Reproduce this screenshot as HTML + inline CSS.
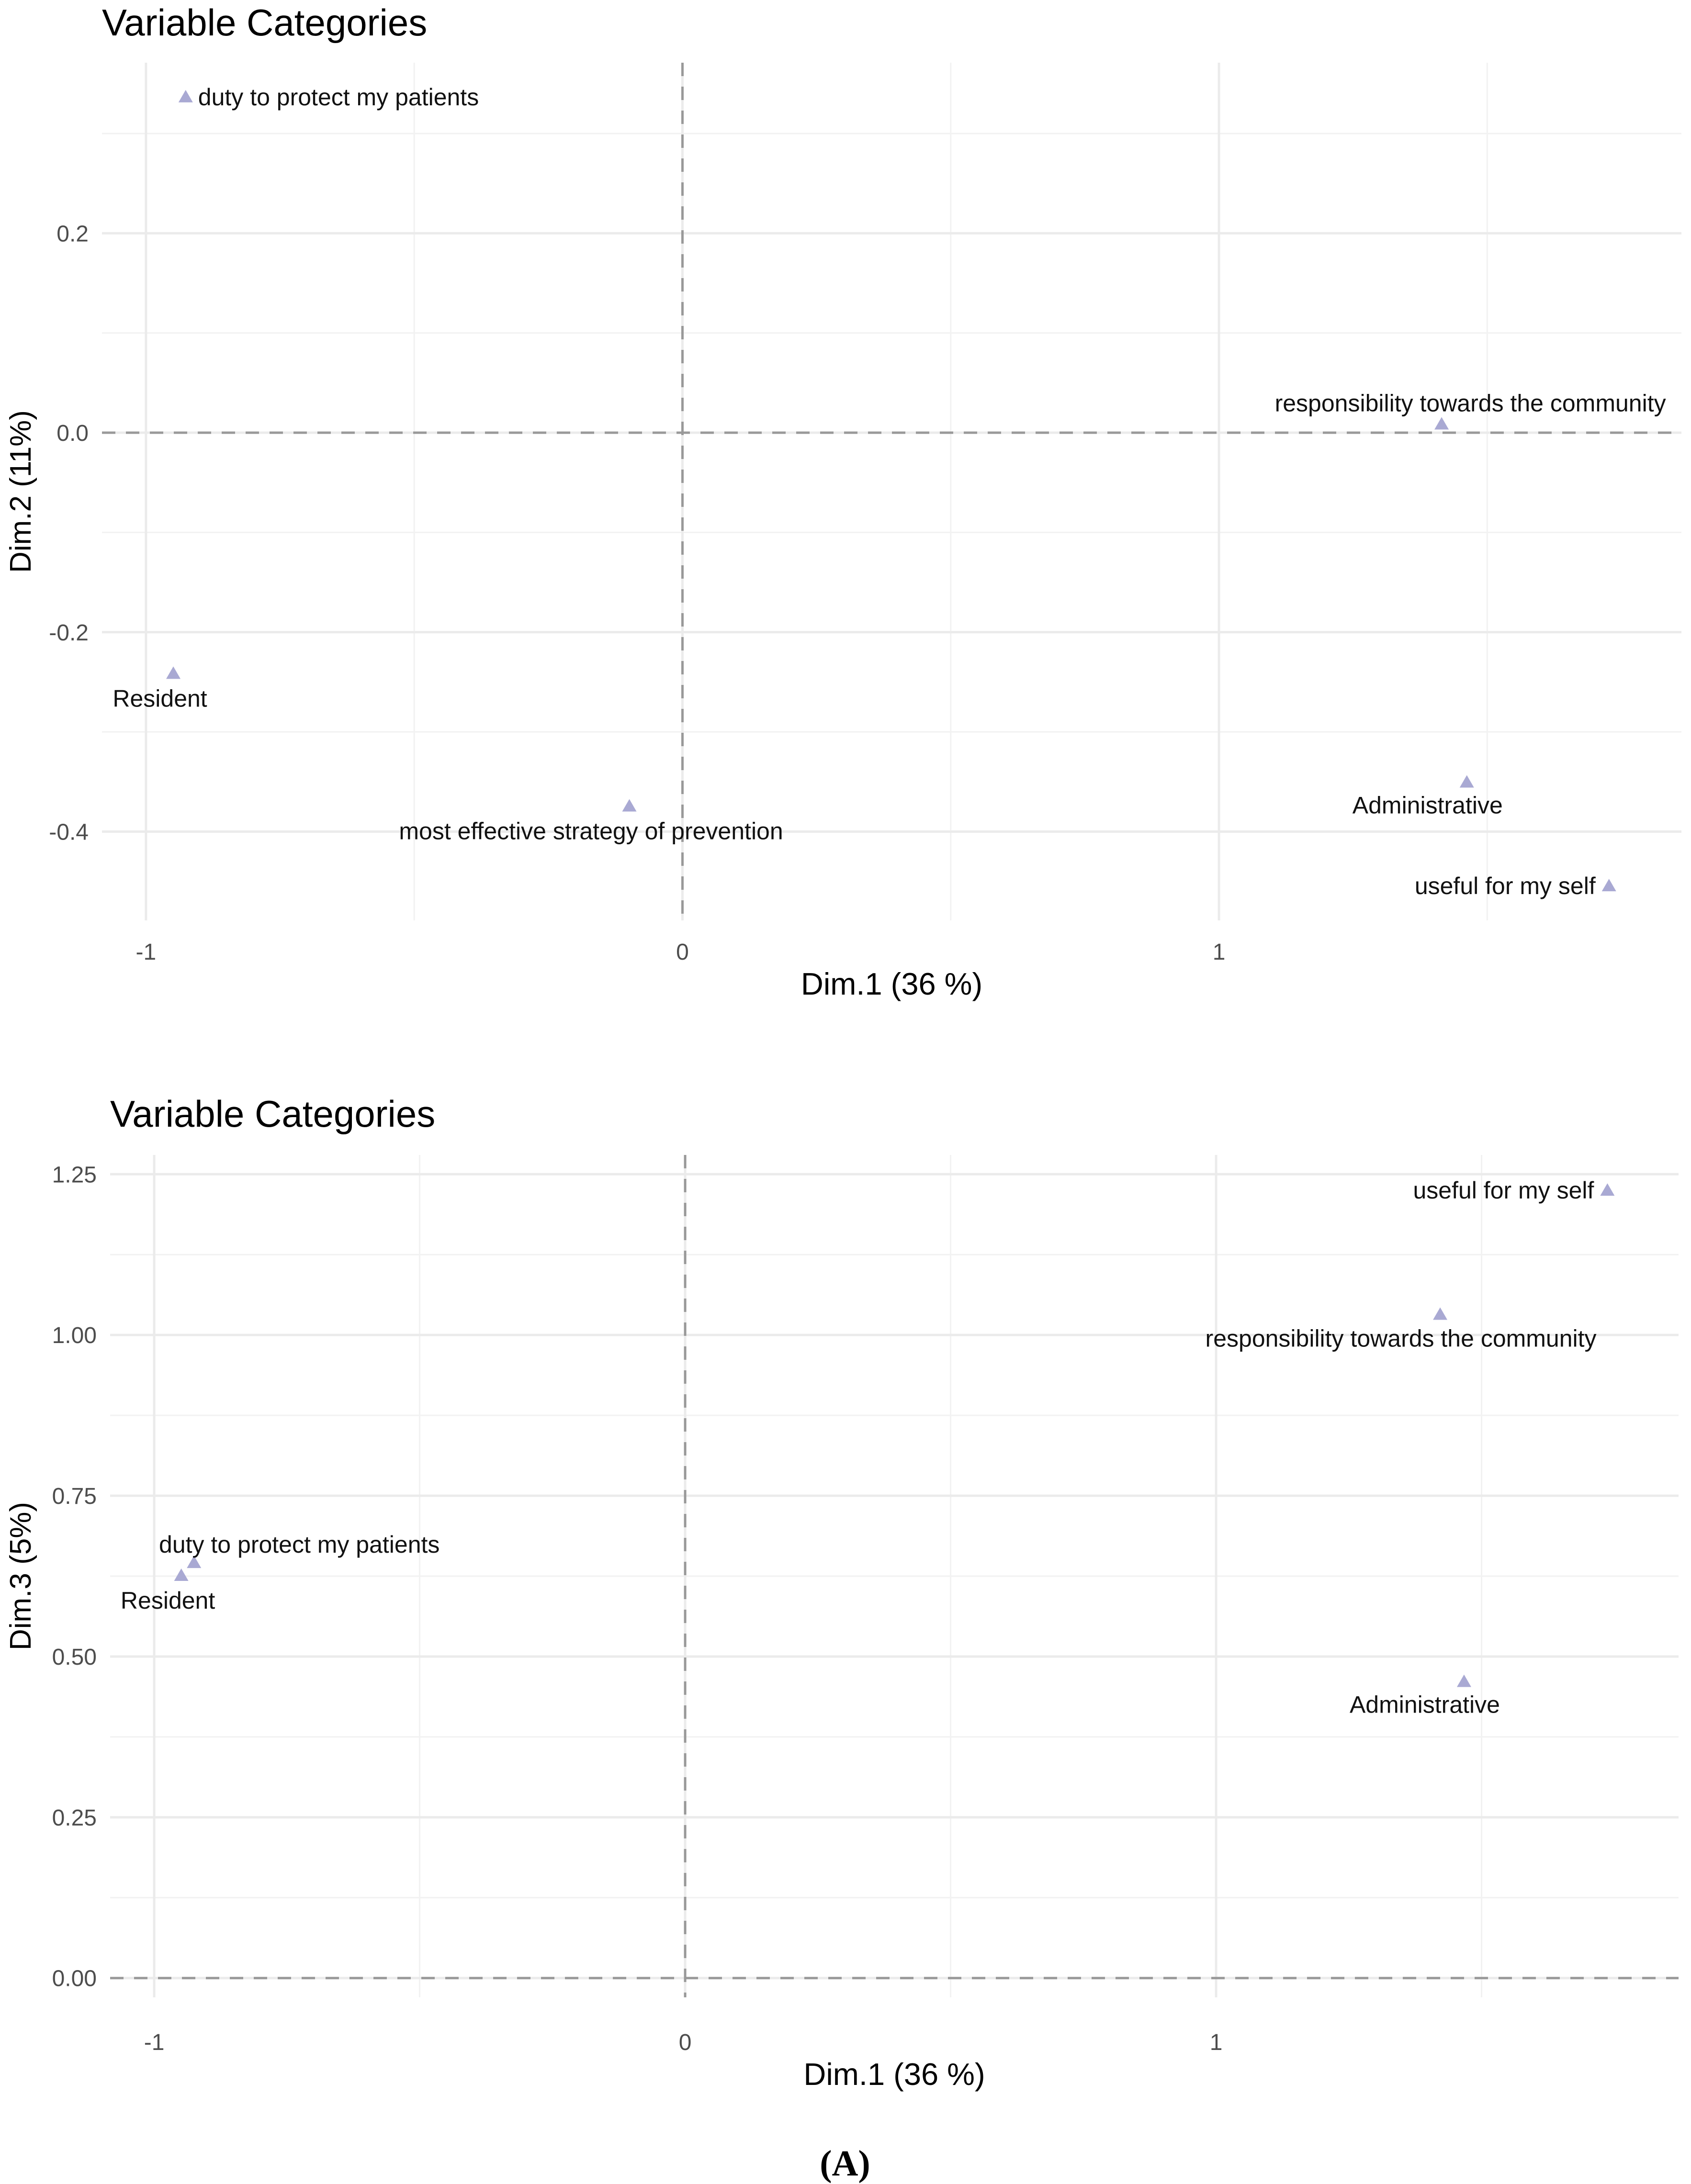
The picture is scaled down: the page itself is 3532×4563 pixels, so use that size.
<!DOCTYPE html>
<html><head><meta charset="utf-8">
<style>
html,body{margin:0;padding:0;background:#fff;}
svg{display:block;}
text{font-family:"Liberation Sans",sans-serif;}
</style></head>
<body>
<svg id="chart" width="3532" height="4563" viewBox="0 0 3532 4563" xmlns="http://www.w3.org/2000/svg">
<g id="p1"></g>
<g id="p2"></g>
<text x="1765" y="4545" text-anchor="middle" font-size="76" font-weight="bold" style="font-family:'Liberation Serif',serif">(A)</text>
</svg>
<script>
// Panel 1 data (Dim.1 vs Dim.2)
const p1Labels = ["duty to protect my patients","Resident","most effective strategy of prevention","responsibility towards the community","Administrative","useful for my self"];
const p1X = [-0.926,-0.949,-0.099,1.415,1.462,1.727];
const p1Y = [0.336,-0.242,-0.375,0.008,-0.351,-0.455];
const p1XTicks = [-1,0,1];
const p1YTicks = [-0.4,-0.2,0.0,0.2];
const p1YTickLabels = ["-0.4","-0.2","0.0","0.2"];
// Panel 2 data (Dim.1 vs Dim.3)
const p2Labels = ["useful for my self","responsibility towards the community","duty to protect my patients","Resident","Administrative"];
const p2X = [1.737,1.422,-0.925,-0.949,1.467];
const p2Y = [1.224,1.031,0.645,0.625,0.46];
const p2XTicks = [-1,0,1];
const p2YTicks = [0,0.25,0.5,0.75,1.0,1.25];
const p2YTickLabels = ["0.00","0.25","0.50","0.75","1.00","1.25"];

const NS="http://www.w3.org/2000/svg";
function mk(parent,tag,attrs,txt){const e=document.createElementNS(NS,tag);for(const k in attrs)e.setAttribute(k,attrs[k]);if(txt!==undefined)e.textContent=txt;parent.appendChild(e);return e;}

function drawPanel(g,cfg,labels,xs,ys,xTicks,yTicks,yTickLabels,labelPos){
  const sx=v=>cfg.L+(v-cfg.xmin)/(cfg.xmax-cfg.xmin)*(cfg.R-cfg.L);
  const sy=v=>cfg.B-(v-cfg.ymin)/(cfg.ymax-cfg.ymin)*(cfg.B-cfg.T);
  for(let i=0;i<xTicks.length;i++){const v=xTicks[i]+0.5;if(v>cfg.xmin&&v<cfg.xmax){const l=mk(g,'line',{x1:sx(v),x2:sx(v),y1:cfg.T,y2:cfg.B,stroke:'#f2f2f2','stroke-width':3});
    
    }}
  const ystep=yTicks[1]-yTicks[0];
  for(let i=-1;i<yTicks.length;i++){const v=(i<0?yTicks[0]:yTicks[i])+(i<0?-ystep/2:ystep/2);if(v>cfg.ymin&&v<cfg.ymax){const l=mk(g,'line',{x1:cfg.L,x2:cfg.R,y1:sy(v),y2:sy(v),stroke:'#f2f2f2','stroke-width':3});
    
    }}
  xTicks.forEach(v=>{const l=mk(g,'line',{x1:sx(v),x2:sx(v),y1:cfg.T,y2:cfg.B,stroke:'#ebebeb','stroke-width':5});
    
    
    const t=mk(g,'text',{x:sx(v),y:cfg.B+cfg.tickDy,'text-anchor':'middle','font-size':48,fill:'#4d4d4d'},String(v));
    
    });
  yTicks.forEach((v,i)=>{const l=mk(g,'line',{x1:cfg.L,x2:cfg.R,y1:sy(v),y2:sy(v),stroke:'#ebebeb','stroke-width':5});
    
    
    const t=mk(g,'text',{x:cfg.L-28,y:sy(v)+17,'text-anchor':'end','font-size':48,fill:'#4d4d4d'},yTickLabels[i]);
    
    });
  const zx=mk(g,'line',{x1:sx(0),x2:sx(0),y1:cfg.T,y2:cfg.B,stroke:'#999','stroke-width':5,'stroke-dasharray':'28 22'});
  
  
  const zy=mk(g,'line',{x1:cfg.L,x2:cfg.R,y1:sy(0),y2:sy(0),stroke:'#999','stroke-width':5,'stroke-dasharray':'28 22'});
  
  
  labels.forEach((lab,i)=>{const x=sx(xs[i]),y=sy(ys[i]);
    const p=mk(g,'polygon',{points:`${x},${y-16} ${x-15},${y+10} ${x+15},${y+10}`,fill:'#a9a9d3'});
    
    
    const lp=labelPos[i];
    const t=mk(g,'text',{x:x+lp[0],y:y+lp[1],'text-anchor':lp[2],'font-size':50,fill:'#111'},lab);
    
    });
  const tt=mk(g,'text',{x:cfg.L,y:cfg.titleY,'font-size':78,fill:'#000'},'Variable Categories');
  
  
  const xt=mk(g,'text',{x:(cfg.L+cfg.R)/2,y:cfg.B+cfg.titleDy,'text-anchor':'middle','font-size':65,fill:'#000'},'Dim.1 (36 %)');
  
  
  const cy=(cfg.T+cfg.B)/2;
  const yt=mk(g,'text',{x:64,y:cy,'text-anchor':'middle','font-size':62,fill:'#000',transform:`rotate(-90 64 ${cy})`},cfg.yTitle);
  
  
}
drawPanel(document.getElementById('p1'),{L:213,R:3512,T:131,B:1923,xmin:-1.082,xmax:1.862,ymin:-0.489,ymax:0.371,titleY:74,yTitle:'Dim.2 (11%)',tickDy:82,titleDy:155},
  p1Labels,p1X,p1Y,p1XTicks,p1YTicks,p1YTickLabels,
  [[26,16,'start'],[-28,68,'middle'],[-80,68,'middle'],[60,-28,'middle'],[-82,64,'middle'],[-28,16,'end']]);
drawPanel(document.getElementById('p2'),{L:230,R:3506,T:2413,B:4173,xmin:-1.083,xmax:1.871,ymin:-0.030,ymax:1.280,titleY:2354,yTitle:'Dim.3 (5%)',tickDy:110,titleDy:183},
  p2Labels,p2X,p2Y,p2XTicks,p2YTicks,p2YTickLabels,
  [[-28,16,'end'],[-82,66,'middle'],[220,-22,'middle'],[-28,68,'middle'],[-82,64,'middle']]);
</script>
</body></html>
